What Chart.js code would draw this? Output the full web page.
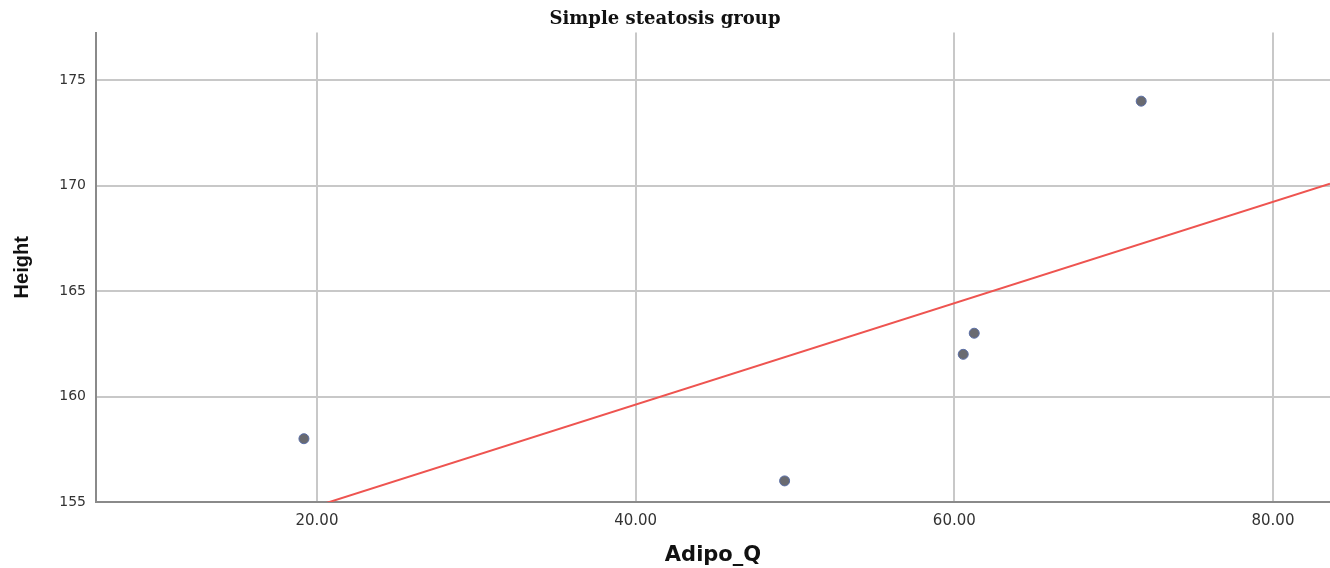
<!DOCTYPE html>
<html>
<head>
<meta charset="utf-8">
<script src="https://cdn.jsdelivr.net/npm/chart.js@4/dist/chart.umd.min.js"></script>
<style>
  html, body { margin: 0; padding: 0; background: #ffffff; }
  #wrap { width: 1330px; height: 568px; position: relative; }
</style>
</head>
<body>
<div id="wrap"><canvas id="chart"></canvas></div>
<script>
// Observations: adiponectin (Adipo_Q) against height, simple steatosis group
const adipoQ = [19.18, 49.35, 60.56, 61.25, 71.73];
const height = [158, 156, 162, 163, 174];

// Axis ranges and tick labels
const xRange = [6.13, 83.58];
const yRange = [155, 177.25];
const xTicks = [20, 40, 60, 80];
const yTicks = [155, 160, 165, 170, 175];

// Least-squares fit line over the full x range
const n = adipoQ.length;
const mx = adipoQ.reduce((a, b) => a + b, 0) / n;
const my = height.reduce((a, b) => a + b, 0) / n;
let sxy = 0, sxx = 0;
for (let i = 0; i < n; i++) {
  sxy += (adipoQ[i] - mx) * (height[i] - my);
  sxx += (adipoQ[i] - mx) ** 2;
}
const slope = sxy / sxx;
const intercept = my - slope * mx;
const fitLine = xRange.map(x => ({ x: x, y: intercept + slope * x }));

const points = adipoQ.map((x, i) => ({ x: x, y: height[i] }));

new Chart(document.getElementById('chart'), {
  type: 'scatter',
  data: {
    datasets: [
      {
        label: 'Height',
        data: points,
        backgroundColor: '#696a70',
        borderColor: '#5a6ea6',
        borderWidth: 1,
        pointRadius: 5,
        order: 1
      },
      {
        label: 'Fit',
        type: 'line',
        data: fitLine,
        borderColor: '#ee5450',
        borderWidth: 2,
        pointRadius: 0,
        fill: false,
        order: 2
      }
    ]
  },
  options: {
    responsive: true,
    maintainAspectRatio: false,
    animation: false,
    layout: { autoPadding: false, padding: 0 },
    plugins: {
      legend: { display: false },
      tooltip: { enabled: false },
      title: {
        display: true,
        text: 'Simple steatosis group',
        color: '#111111',
        font: { family: 'DejaVu Serif', size: 18, weight: 'bold' },
        padding: { top: 9, bottom: 2 }
      }
    },
    scales: {
      x: {
        type: 'linear',
        min: xRange[0],
        max: xRange[1],
        afterBuildTicks: s => { s.ticks = xTicks.map(v => ({ value: v })); },
        afterFit: s => { s.height = 66; s.paddingLeft = 0; s.paddingRight = 0; },
        grid: { color: '#c8c8c8', lineWidth: 2, drawTicks: false },
        border: { color: '#8a8a8a', width: 2 },
        ticks: {
          padding: 10,
          color: '#333333',
          font: { family: 'DejaVu Sans', size: 15 },
          callback: v => Number(v).toFixed(2)
        },
        title: {
          display: true,
          text: 'Adipo_Q',
          color: '#111111',
          font: { family: 'DejaVu Sans', size: 21, weight: 'bold' },
          padding: { top: 7, bottom: 0 }
        }
      },
      y: {
        type: 'linear',
        min: yRange[0],
        max: yRange[1],
        afterBuildTicks: s => { s.ticks = yTicks.map(v => ({ value: v })); },
        afterFit: s => { s.width = 96; },
        grid: { color: '#c8c8c8', lineWidth: 2, drawTicks: false },
        border: { color: '#8a8a8a', width: 2 },
        ticks: {
          padding: 10,
          color: '#333333',
          font: { family: 'DejaVu Sans', size: 14 },
          callback: v => String(v)
        },
        title: {
          display: true,
          text: 'Height',
          color: '#111111',
          font: { family: 'Liberation Sans', size: 20, weight: 'bold' },
          padding: { top: 10, bottom: 0 }
        }
      }
    }
  }
});
</script>
</body>
</html>
